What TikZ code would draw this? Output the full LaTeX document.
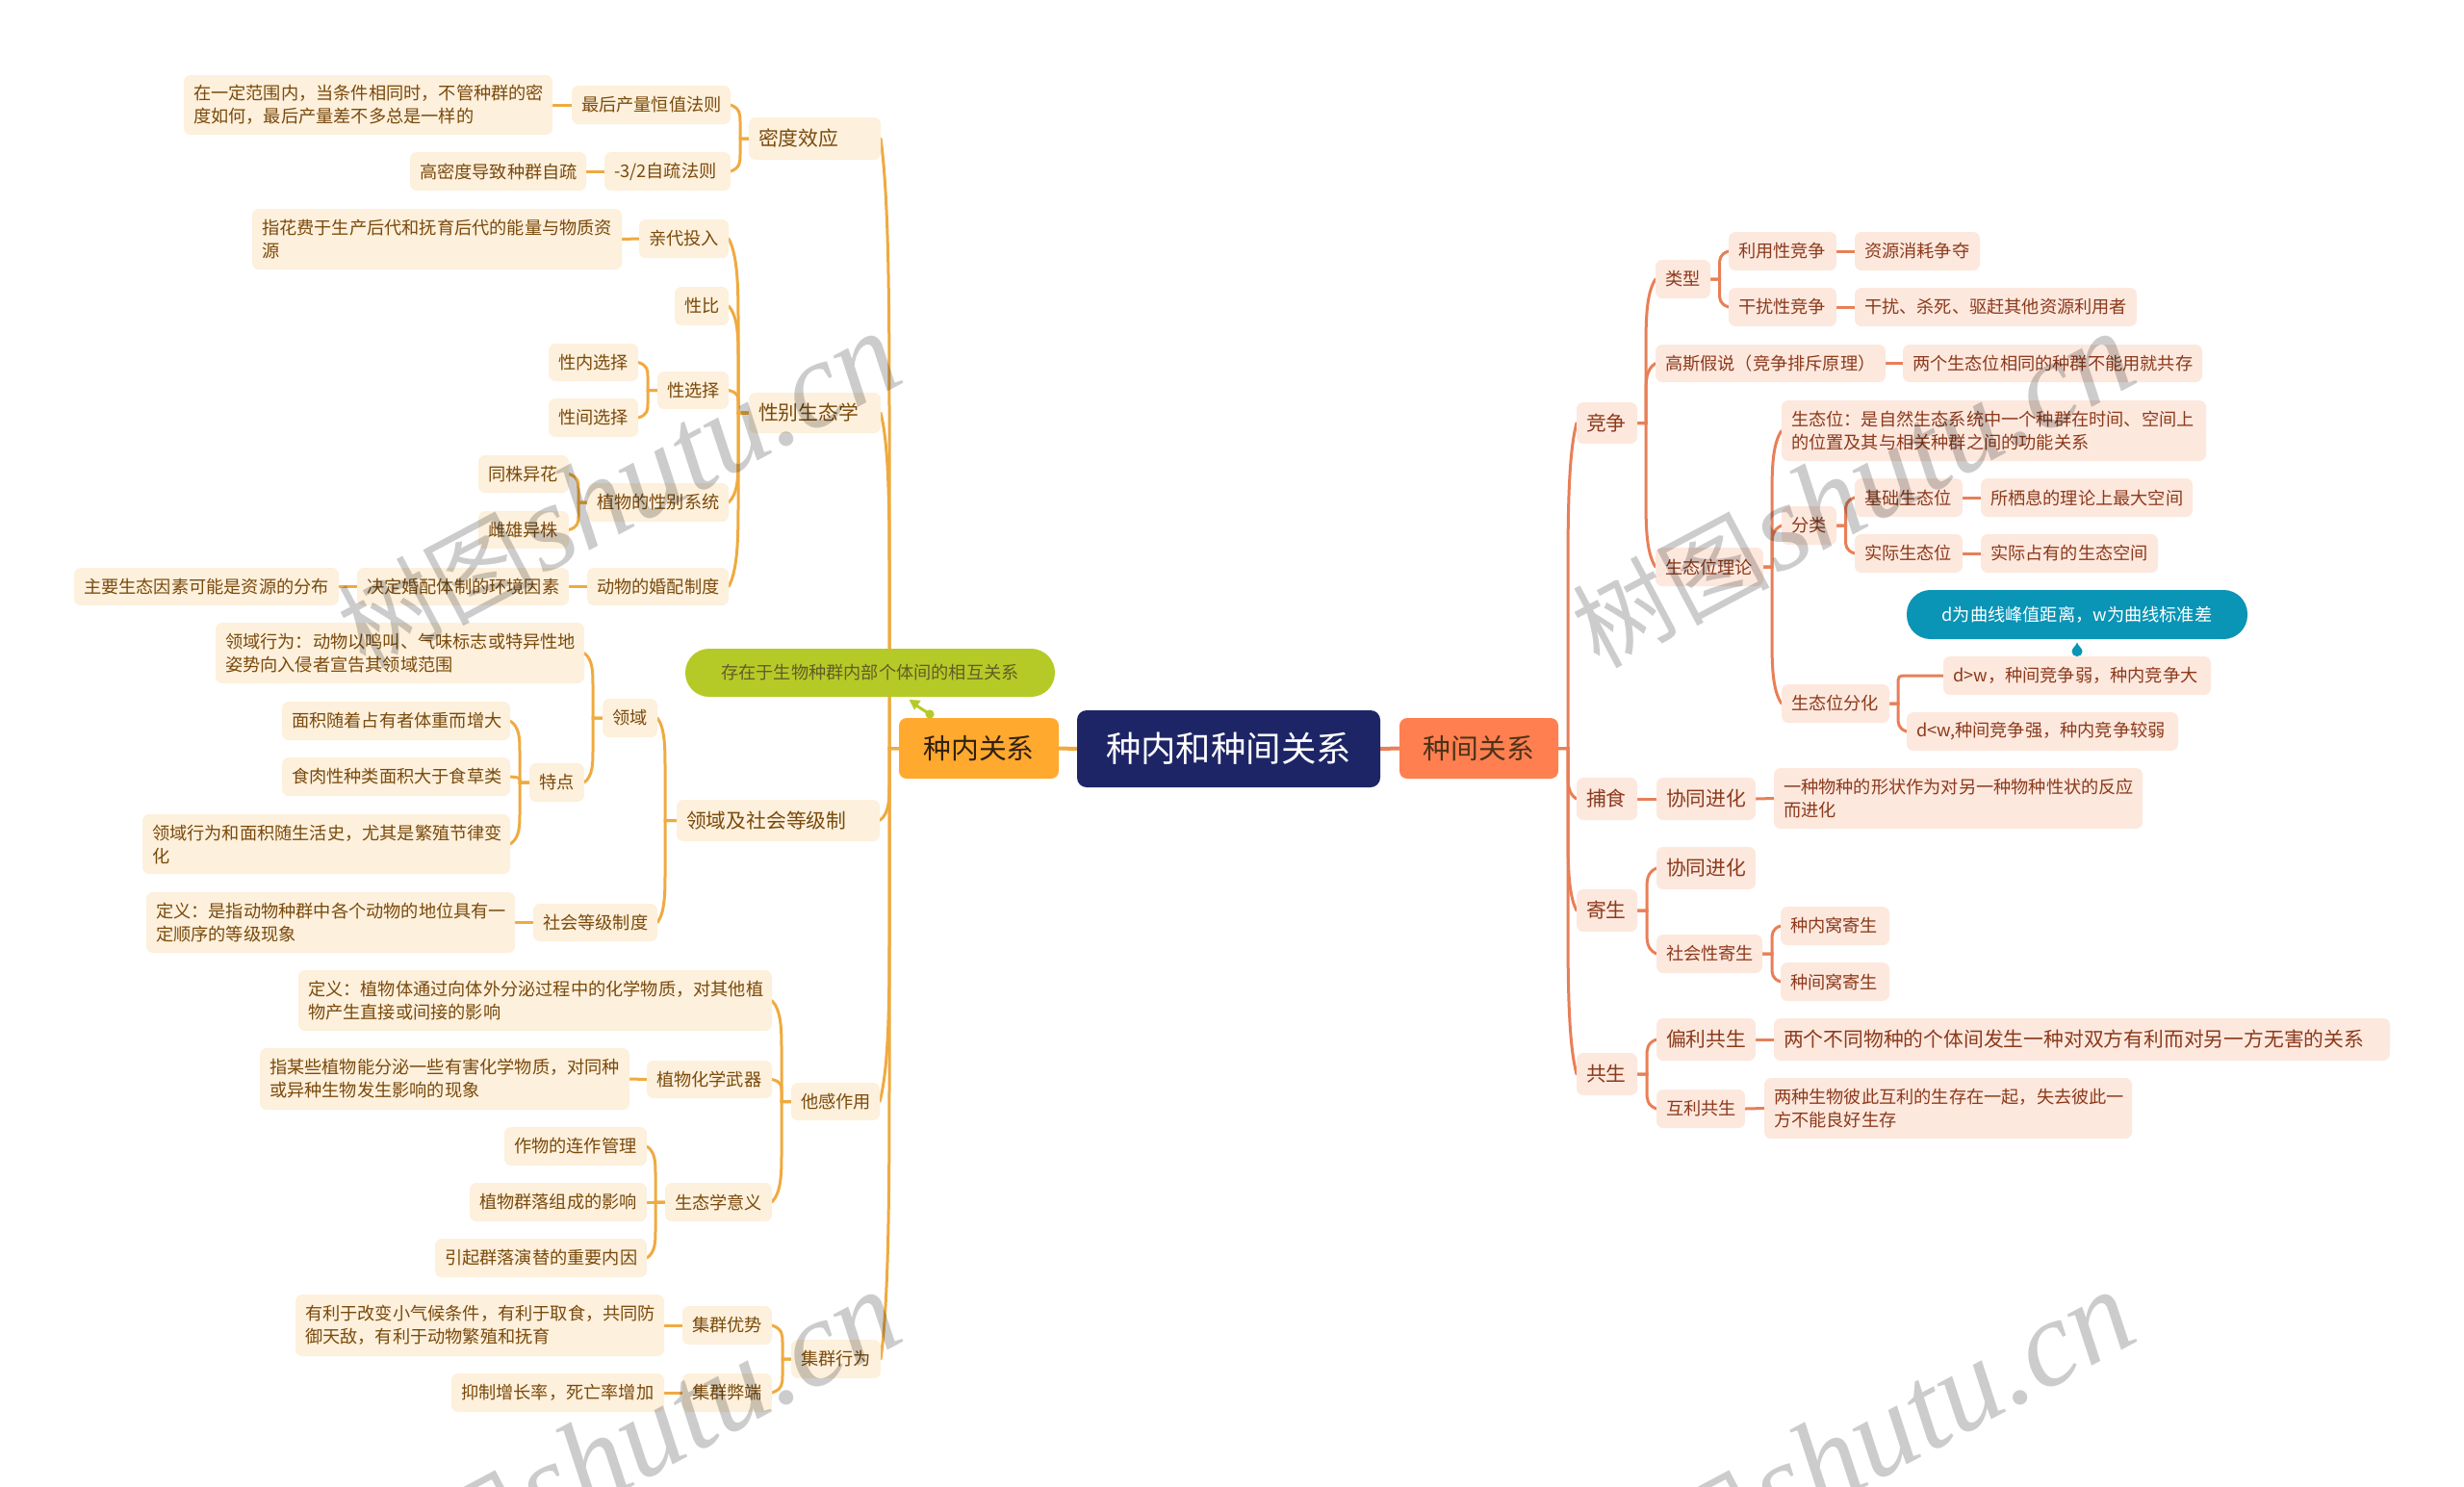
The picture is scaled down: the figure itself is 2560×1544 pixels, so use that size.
\documentclass[tikz,border=0pt]{standalone}
\usepackage{fontspec}
\setmainfont{Noto Sans CJK SC}
\newfontfamily\wmlat{Liberation Serif}
\usetikzlibrary{calc}
\definecolor{lfill}{HTML}{FDF0DC}
\definecolor{rfill}{HTML}{FDE8DE}
\definecolor{ltext}{HTML}{7A4A0C}
\definecolor{rtext}{HTML}{8C3A1B}
\definecolor{lline}{HTML}{EFAA40}
\definecolor{rline}{HTML}{E87F57}
\definecolor{majl}{HTML}{FFA92F}
\definecolor{majr}{HTML}{FF7F50}
\definecolor{centerc}{HTML}{1E2566}
\definecolor{gpill}{HTML}{B6CA27}
\definecolor{bpill}{HTML}{0A94B6}
\pgfdeclarelayer{bg}
\pgfsetlayers{bg,main}
\newcommand\wmtext{{\fontsize{51}{60}\selectfont 树图} {\wmlat\itshape\fontsize{64}{60}\selectfont shutu.cn}}
\tikzset{
  base/.style={rounded corners=3.5pt,inner ysep=0pt,inner xsep=5pt,outer sep=0pt,align=left,anchor=center},
  lf/.style={base,fill=lfill,text=ltext,font=\fontsize{9.1}{12}\selectfont},
  lb/.style={base,fill=lfill,text=ltext,font=\fontsize{10.4}{13}\selectfont},
  rf/.style={base,fill=rfill,text=rtext,font=\fontsize{9.1}{12}\selectfont},
  rb/.style={base,fill=rfill,text=rtext,font=\fontsize{10.4}{13}\selectfont},
  majorl/.style={base,align=center,rounded corners=4pt,fill=majl,text=black!75!brown,font=\fontsize{14.4}{16}\selectfont},
  majorr/.style={base,align=center,rounded corners=4pt,fill=majr,text=black!60!brown,font=\fontsize{14.4}{16}\selectfont},
  centerbox/.style={base,align=center,rounded corners=5pt,fill=centerc,text=white,font=\fontsize{18.2}{20}\selectfont},
  pillg/.style={base,align=center,rounded corners=12.4pt,fill=gpill,text=black!30!olive!85!black,font=\fontsize{9.1}{12}\selectfont},
  pillb/.style={base,align=center,rounded corners=12.4pt,fill=bpill,text=white,font=\fontsize{9.1}{12}\selectfont},
  lconn/.style={draw=lline,line width=1.5pt,line cap=round},
  rconn/.style={draw=rline,line width=1.5pt,line cap=round},
  wmark/.style={rotate=28,text=black,opacity=.2}
}
% name x0 y0 x1 y1 style text
\newcommand\nd[7]{%
  \pgfmathsetmacro\ndw{(#4-#2)*0.5-10}%
  \pgfmathsetmacro\ndh{(#5-#3)*0.5}%
  \node[#6,text width=\ndw pt,minimum height=\ndh pt] (#1) at ({(#2+#4)/2},{(#3+#5)/2}) {#7};}
% parent child gap: bracket to the left
\newcommand\bl[3]{%
  \draw[lconn] let \p1=(#1.west), \p2=(#2.east), \p3=([xshift=-#3*0.5pt]#1.west) in
   (#2.east) .. controls (\x3,{\y2+0.1*(\y1-\y2)}) and (\x3,{\y2+0.3*(\y1-\y2)}) .. (\x3,{\y2+0.5*(\y1-\y2)}) -- (\x3,\y1) -- (#1.west);}
% parent child gap: bracket to the right
\newcommand\br[3]{%
  \draw[rconn] let \p1=(#1.east), \p2=(#2.west), \p3=([xshift=#3*0.5pt]#1.east) in
   (#2.west) .. controls (\x3,{\y2+0.1*(\y1-\y2)}) and (\x3,{\y2+0.3*(\y1-\y2)}) .. (\x3,{\y2+0.5*(\y1-\y2)}) -- (\x3,\y1) -- (#1.east);}
\begin{document}
\begin{tikzpicture}[x=0.5pt,y=-0.5pt]
\useasboundingbox (0,0) rectangle (2560,1544);
\begin{pgfonlayer}{bg}
\fill[white] (0,0) rectangle (2560,1544);
\end{pgfonlayer}
% centre
\nd{root}{1119}{738}{1434}{818}{centerbox}{种内和种间关系}
\nd{intra}{934}{746}{1100}{809}{majorl}{种内关系}
\nd{inter}{1454}{746}{1619}{809}{majorr}{种间关系}
\nd{gnote}{712}{674}{1096}{724}{pillg}{存在于生物种群内部个体间的相互关系}
% left: density
\nd{midu}{778}{122}{915}{166}{lb}{密度效应}
\nd{zuihou}{594}{89}{759}{129}{lf}{最后产量恒值法则}
\nd{zuihoud}{191}{78}{574}{140}{lf}{在一定范围内，当条件相同时，不管种群的密\\度如何，最后产量差不多总是一样的}
\nd{zishu}{628}{158}{759}{198}{lf}{-3/2自疏法则}
\nd{zishud}{426}{158}{609}{198}{lf}{高密度导致种群自疏}
% left: sex ecology
\nd{xingbie}{778}{408}{915}{450}{lb}{性别生态学}
\nd{qindai}{664}{228}{757}{268}{lf}{亲代投入}
\nd{qindaid}{262}{217}{646}{280}{lf}{指花费于生产后代和抚育后代的能量与物质资\\源}
\nd{xingbi}{701}{298}{757}{338}{lf}{性比}
\nd{xingxz}{683}{386}{757}{425}{lf}{性选择}
\nd{xingnei}{570}{357}{663}{396}{lf}{性内选择}
\nd{xingjian}{570}{414}{663}{454}{lf}{性间选择}
\nd{zhiwuxb}{610}{502}{757}{542}{lf}{植物的性别系统}
\nd{tongzhu}{497}{473}{591}{512}{lf}{同株异花}
\nd{cixiong}{497}{531}{591}{570}{lf}{雌雄异株}
\nd{dongwu}{610}{590}{757}{629}{lf}{动物的婚配制度}
\nd{jueding}{371}{590}{591}{629}{lf}{决定婚配体制的环境因素}
\nd{zhuyao}{77}{590}{352}{629}{lf}{主要生态因素可能是资源的分布}
% left: territory
\nd{lingyujs}{703}{831}{914}{874}{lb}{领域及社会等级制}
\nd{lingyu}{626}{726}{683}{766}{lf}{领域}
\nd{lingyud}{224}{647}{607}{710}{lf}{领域行为：动物以鸣叫、气味标志或特异性地\\姿势向入侵者宣告其领域范围}
\nd{tedian}{550}{793}{607}{833}{lf}{特点}
\nd{mianji}{293}{729}{530}{769}{lf}{面积随着占有者体重而增大}
\nd{shirou}{293}{787}{530}{827}{lf}{食肉性种类面积大于食草类}
\nd{shenghuo}{148}{846}{530}{908}{lf}{领域行为和面积随生活史，尤其是繁殖节律变\\化}
\nd{shehui}{554}{939}{683}{978}{lf}{社会等级制度}
\nd{shehuid}{152}{927}{535}{990}{lf}{定义：是指动物种群中各个动物的地位具有一\\定顺序的等级现象}
% left: allelopathy
\nd{tagan}{822}{1125}{914}{1164}{lf}{他感作用}
\nd{tagand}{310}{1008}{802}{1071}{lf}{定义：植物体通过向体外分泌过程中的化学物质，对其他植\\物产生直接或间接的影响}
\nd{wuqi}{672}{1102}{802}{1141}{lf}{植物化学武器}
\nd{wuqid}{270}{1089}{654}{1153}{lf}{指某些植物能分泌一些有害化学物质，对同种\\或异种生物发生影响的现象}
\nd{yiyi}{691}{1229}{802}{1269}{lf}{生态学意义}
\nd{lianzuo}{524}{1171}{672}{1211}{lf}{作物的连作管理}
\nd{qunluo}{488}{1229}{672}{1269}{lf}{植物群落组成的影响}
\nd{yanti}{452}{1287}{672}{1327}{lf}{引起群落演替的重要内因}
% left: group
\nd{jiqun}{822}{1392}{915}{1432}{lf}{集群行为}
\nd{youshi}{709}{1357}{802}{1397}{lf}{集群优势}
\nd{youshid}{307}{1345}{690}{1409}{lf}{有利于改变小气候条件，有利于取食，共同防\\御天敌，有利于动物繁殖和抚育}
\nd{biduan}{709}{1427}{802}{1467}{lf}{集群弊端}
\nd{biduand}{469}{1427}{690}{1467}{lf}{抑制增长率，死亡率增加}
% right: competition
\nd{jingzheng}{1638}{418}{1701}{461}{rb}{竞争}
\nd{leixing}{1720}{270}{1777}{310}{rf}{类型}
\nd{liyong}{1796}{241}{1908}{281}{rf}{利用性竞争}
\nd{liyongd}{1927}{241}{2057}{281}{rf}{资源消耗争夺}
\nd{ganrao}{1796}{299}{1908}{339}{rf}{干扰性竞争}
\nd{ganraod}{1927}{299}{2220}{339}{rf}{干扰、杀死、驱赶其他资源利用者}
\nd{gaosi}{1720}{358}{1959}{397}{rf}{高斯假说（竞争排斥原理）}
\nd{gaosid}{1977}{358}{2288}{397}{rf}{两个生态位相同的种群不能用就共存}
\nd{shengtai}{1720}{569}{1832}{609}{rf}{生态位理论}
\nd{stdef}{1851}{416}{2292}{479}{rf}{生态位：是自然生态系统中一个种群在时间、空间上\\的位置及其与相关种群之间的功能关系}
\nd{fenlei}{1851}{526}{1908}{566}{rf}{分类}
\nd{jichu}{1927}{497}{2039}{537}{rf}{基础生态位}
\nd{jichud}{2058}{497}{2278}{537}{rf}{所栖息的理论上最大空间}
\nd{shiji}{1927}{555}{2039}{595}{rf}{实际生态位}
\nd{shijid}{2058}{555}{2242}{595}{rf}{实际占有的生态空间}
\nd{fenhua}{1851}{711}{1963}{751}{rf}{生态位分化}
\nd{dgw}{2019}{682}{2297}{722}{rf}{d>w，种间竞争弱，种内竞争大}
\nd{dlw}{1981}{740}{2263}{780}{rf}{d<w,种间竞争强，种内竞争较弱}
\nd{bnote}{1981}{613}{2335}{664}{pillb}{d为曲线峰值距离，w为曲线标准差}
% right: others
\nd{bushi}{1638}{808}{1701}{852}{rb}{捕食}
\nd{xietong}{1721}{808}{1824}{852}{rb}{协同进化}
\nd{xietongd}{1843}{798}{2226}{861}{rf}{一种物种的形状作为对另一种物种性状的反应\\而进化}
\nd{jisheng}{1638}{924}{1701}{968}{rb}{寄生}
\nd{xietongb}{1721}{880}{1824}{924}{rb}{协同进化}
\nd{shehuix}{1721}{971}{1831}{1011}{rf}{社会性寄生}
\nd{woneig}{1850}{942}{1963}{982}{rf}{种内窝寄生}
\nd{wojian}{1850}{1000}{1963}{1040}{rf}{种间窝寄生}
\nd{gongsheng}{1638}{1094}{1701}{1138}{rb}{共生}
\nd{pianli}{1721}{1058}{1824}{1102}{rb}{偏利共生}
\nd{pianlid}{1843}{1058}{2483}{1102}{rb}{两个不同物种的个体间发生一种对双方有利而对另一方无害的关系}
\nd{huli}{1721}{1132}{1813}{1172}{rf}{互利共生}
\nd{hulid}{1833}{1120}{2215}{1183}{rf}{两种生物彼此互利的生存在一起，失去彼此一\\方不能良好生存}
% connectors
\begin{pgfonlayer}{bg}
\draw[lconn,line width=2pt] (root.west) -- (intra.east);
\draw[rconn,line width=2pt] (root.east) -- (inter.west);
\bl{intra}{midu}{10}\bl{intra}{xingbie}{10}\bl{intra}{lingyujs}{10}\bl{intra}{tagan}{10}\bl{intra}{jiqun}{10}
\bl{midu}{zuihou}{9}\bl{midu}{zishu}{9}
\draw[lconn] (zuihou.west) -- (zuihoud.east);
\draw[lconn] (zishu.west) -- (zishud.east);
\bl{xingbie}{qindai}{11}\bl{xingbie}{xingbi}{11}\bl{xingbie}{xingxz}{11}\bl{xingbie}{zhiwuxb}{11}\bl{xingbie}{dongwu}{11}
\draw[lconn] (qindai.west) -- (qindaid.east);
\bl{xingxz}{xingnei}{10}\bl{xingxz}{xingjian}{10}
\bl{zhiwuxb}{tongzhu}{9}\bl{zhiwuxb}{cixiong}{9}
\draw[lconn] (dongwu.west) -- (jueding.east);
\draw[lconn] (jueding.west) -- (zhuyao.east);
\bl{lingyujs}{lingyu}{12}\bl{lingyujs}{shehui}{12}
\bl{lingyu}{lingyud}{10}\bl{lingyu}{tedian}{10}
\bl{tedian}{mianji}{10}\bl{tedian}{shirou}{10}\bl{tedian}{shenghuo}{10}
\draw[lconn] (shehui.west) -- (shehuid.east);
\bl{tagan}{tagand}{10}\bl{tagan}{wuqi}{10}\bl{tagan}{yiyi}{10}
\draw[lconn] (wuqi.west) -- (wuqid.east);
\bl{yiyi}{lianzuo}{10}\bl{yiyi}{qunluo}{10}\bl{yiyi}{yanti}{10}
\bl{jiqun}{youshi}{9}\bl{jiqun}{biduan}{9}
\draw[lconn] (youshi.west) -- (youshid.east);
\draw[lconn] (biduan.west) -- (biduand.east);
\br{inter}{jingzheng}{10}\br{inter}{bushi}{10}\br{inter}{jisheng}{10}\br{inter}{gongsheng}{10}
\br{jingzheng}{leixing}{9}\br{jingzheng}{gaosi}{9}\br{jingzheng}{shengtai}{9}
\br{leixing}{liyong}{9.5}\br{leixing}{ganrao}{9.5}
\draw[rconn] (liyong.east) -- (liyongd.west);
\draw[rconn] (ganrao.east) -- (ganraod.west);
\draw[rconn] (gaosi.east) -- (gaosid.west);
\br{shengtai}{stdef}{9}\br{shengtai}{fenlei}{9}\br{shengtai}{fenhua}{9}
\br{fenlei}{jichu}{9.5}\br{fenlei}{shiji}{9.5}
\draw[rconn] (jichu.east) -- (jichud.west);
\draw[rconn] (shiji.east) -- (shijid.west);
\draw[rconn] let \p1=(fenhua.east), \p2=(dgw.west), \p3=([xshift=4.5pt]fenhua.east) in
  (dgw.west) -- (\x3+5pt,\y2) .. controls (\x3,\y2) .. (\x3,\y2-5pt) -- (\x3,\y1) -- (fenhua.east);
\br{fenhua}{dlw}{9}
\draw[rconn] (bushi.east) -- (xietong.west);
\draw[rconn] (xietong.east) -- (xietongd.west);
\br{jisheng}{xietongb}{10}\br{jisheng}{shehuix}{10}
\br{shehuix}{woneig}{10}\br{shehuix}{wojian}{10}
\br{gongsheng}{pianli}{10}\br{gongsheng}{huli}{10}
\draw[rconn] (pianli.east) -- (pianlid.west);
\draw[rconn] (huli.east) -- (hulid.west);
\end{pgfonlayer}
% note markers
\coordinate (gfrom) at (966,742);
\coordinate (gto) at (952,733);
\draw[gpill,line width=1.5pt] (gfrom) -- (gto);
\fill[gpill] (gfrom) circle (4.6);
\fill[gpill] (944.7,727) -- (956.7,727.7) -- (950,737.7) -- cycle;
\fill[bpill] (2158,667.5) .. controls (2159,671) and (2163.5,673.5) .. (2163.5,677)
  .. controls (2163.5,680) and (2161,682) .. (2158,682)
  .. controls (2155,682) and (2152.5,680) .. (2152.5,677)
  .. controls (2152.5,673.5) and (2157,671) .. (2158,667.5) -- cycle;
% watermarks
\begin{scope}
\clip (0,0) rectangle (2560,1544);
\node[wmark] (wm1) at (643,510) {\wmtext};
\node[wmark] (wm2) at (1925,510) {\wmtext};
\node[wmark] (wm3) at (643,1506) {\wmtext};
\node[wmark] (wm4) at (1925,1506) {\wmtext};
\end{scope}
\end{tikzpicture}
\end{document}
